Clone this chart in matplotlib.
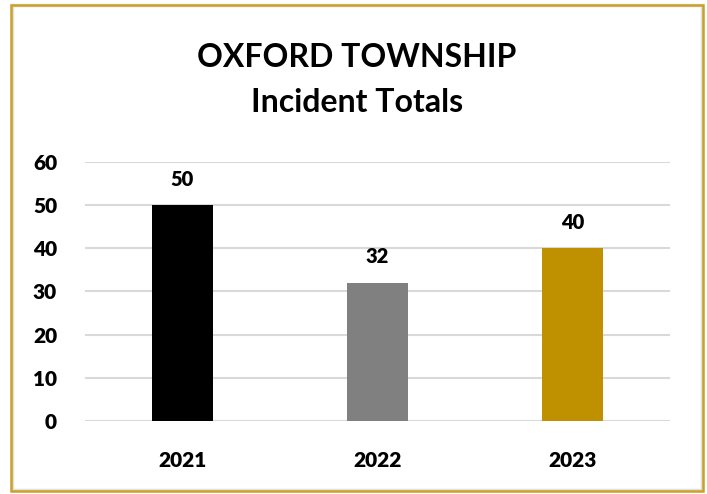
import matplotlib.pyplot as plt
from matplotlib.patches import Rectangle

years = ['2021', '2022', '2023']
totals = [50, 32, 40]
colors = ['#000000', '#808080', '#BF9000']

plt.rcParams['font.family'] = ['Lato', 'DejaVu Sans']
plt.rcParams['font.weight'] = 'bold'

fig = plt.figure(figsize=(7.07, 4.94), dpi=100)
ax = fig.add_axes([0.120, 0.148, 0.828, 0.524])

x = range(len(years))
bars = ax.bar(x, totals, width=0.313, color=colors, zorder=3)

for b, v in zip(bars, totals):
  ax.annotate(str(v), (b.get_x() + b.get_width() / 2, v),
              xytext=(0, 12), textcoords='offset points',
              ha='center', va='bottom', fontsize=14.5, fontweight='heavy')

ax.set_xlim(-0.5, 2.5)
ax.set_ylim(0, 60)
ax.set_yticks(range(0, 61, 10))
ax.set_yticklabels([str(v) for v in range(0, 61, 10)], fontweight='heavy', fontsize=15)
ax.set_xticks(list(x))
ax.set_xticklabels(years, fontweight='heavy', fontsize=15)
ax.grid(axis='y', color='#d9d9d9', linewidth=1.5, zorder=0)
for s in ax.spines.values():
  s.set_visible(False)
ax.tick_params(axis='x', length=0, pad=22)
ax.tick_params(axis='y', length=0, pad=20)

fig.text(0.505, 0.838, 'OXFORD TOWNSHIP\nIncident Totals', ha='center', va='center',
         fontsize=23, fontweight='bold', linespacing=1.65)

# outer frame
fig.patches.append(Rectangle((12 / 707, 4 / 494), 690 / 707, 485 / 494,
                             transform=fig.transFigure, fill=False,
                             edgecolor='#e0e0e0', linewidth=2.5))
fig.patches.append(Rectangle((10.5 / 707, 3 / 494), 692 / 707, 486 / 494,
                             transform=fig.transFigure, fill=False,
                             edgecolor='#C9A227', linewidth=1.8))

fig.savefig('out.png', dpi=100)
